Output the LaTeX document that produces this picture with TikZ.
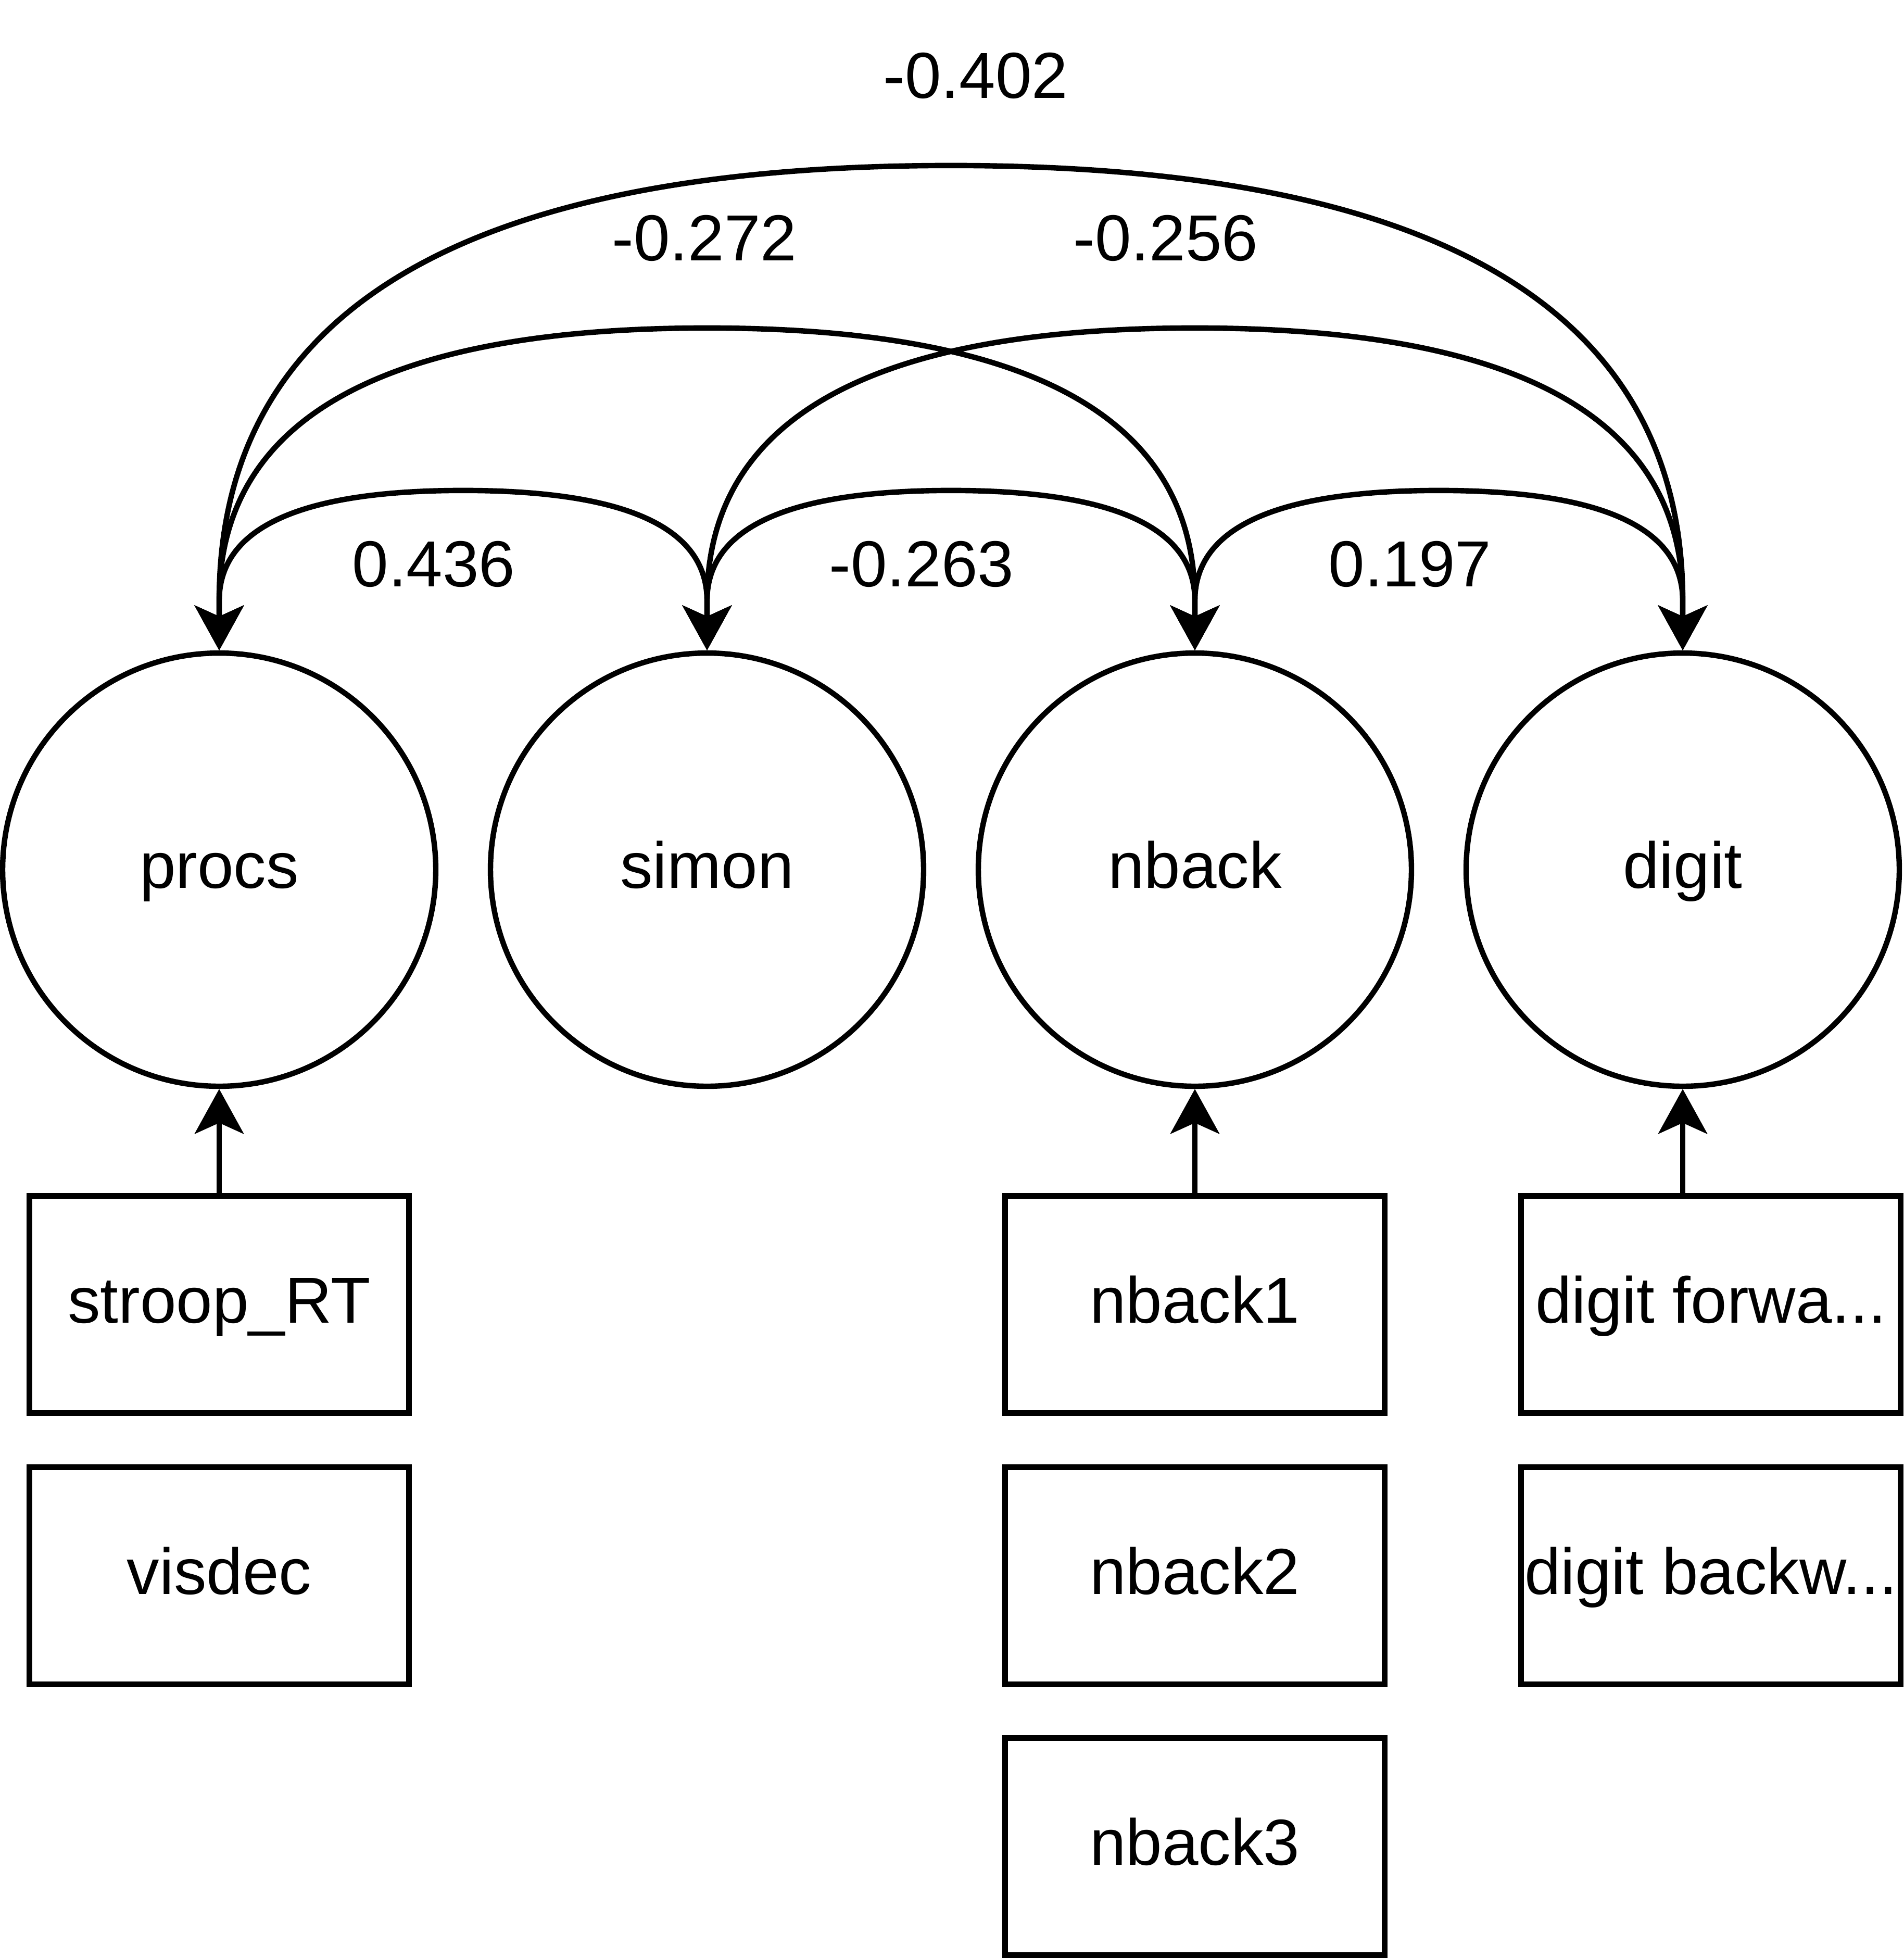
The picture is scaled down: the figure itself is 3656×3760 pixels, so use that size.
\documentclass[tikz,border=0pt]{standalone}
\usepackage{fontspec}
\setmainfont{Liberation Sans}
\usetikzlibrary{arrows.meta,calc}

\tikzset{every picture/.style={line width=1.04pt}}
\tikzset{
	>={Stealth[length=8.6pt,width=9.4pt,inset=2.1pt]},
	every node/.style={font=\fontsize{12.5pt}{15pt}\selectfont, text height=0.9em, text depth=0.2em},
	latent/.style={draw, circle, minimum size=83.2pt, inner sep=0pt},
	indicator/.style={draw, rectangle, minimum width=72.9pt, minimum height=41.7pt, inner sep=0pt},
	loading/.style={->},
	cov/.style={<->},
	coef/.style={inner sep=0pt}
}

\begin{document}
\begin{tikzpicture}[x=0.1pt,y=0.1pt,yscale=-1,xscale=1]
	\useasboundingbox (0,0) rectangle (3656,3760);

	% Latent factors
	\node[latent] (procs) at (421,1670) {procs};
	\node[latent] (simon) at (1358,1670) {simon};
	\node[latent] (nback) at (2295,1670) {nback};
	\node[latent] (digit) at (3232,1670) {digit};

	% Indicators
	\node[indicator] (stroop) at (421,2505) {stroop\_RT};
	\node[indicator] (visdec) at (421,3026) {visdec};
	\node[indicator] (nbackone) at (2295,2505) {nback1};
	\node[indicator] (nbacktwo) at (2295,3026) {nback2};
	\node[indicator] (nbackthree) at (2295,3546) {nback3};
	\node[indicator] (fwd) at (3286,2505) {digit forwa...};
	\node[indicator] (bwd) at (3286,3026) {digit backw...};

	% Loadings
	\draw[loading] (stroop.north) -- (procs.south);
	\draw[loading] (nbackone.north) -- (nback.south);
	\draw[loading] (digit.south |- fwd.north) -- (digit.south);

	% Covariances, neighbours
	\draw[cov] (procs.north) -- ++(0,-95) .. controls +(0,-141) and +(-312,0) .. ($(procs.north)!.5!(simon.north)+(0,-307)$) .. controls +(312,0) and +(0,-141) .. ($(simon.north)+(0,-95)$) -- (simon.north);
	\draw[cov] (simon.north) -- ++(0,-95) .. controls +(0,-141) and +(-312,0) .. ($(simon.north)!.5!(nback.north)+(0,-307)$) .. controls +(312,0) and +(0,-141) .. ($(nback.north)+(0,-95)$) -- (nback.north);
	\draw[cov] (nback.north) -- ++(0,-95) .. controls +(0,-141) and +(-312,0) .. ($(nback.north)!.5!(digit.north)+(0,-307)$) .. controls +(312,0) and +(0,-141) .. ($(digit.north)+(0,-95)$) -- (digit.north);
	% Covariances, one apart
	\draw[cov] (procs.north) -- ++(0,-95) .. controls +(0,-349) and +(-625,0) .. ($(procs.north)!.5!(nback.north)+(0,-619)$) .. controls +(625,0) and +(0,-349) .. ($(nback.north)+(0,-95)$) -- (nback.north);
	\draw[cov] (simon.north) -- ++(0,-95) .. controls +(0,-349) and +(-625,0) .. ($(simon.north)!.5!(digit.north)+(0,-619)$) .. controls +(625,0) and +(0,-349) .. ($(digit.north)+(0,-95)$) -- (digit.north);
	% Covariance, outer
	\draw[cov] (procs.north) -- ++(0,-95) .. controls +(0,-557) and +(-937,0) .. ($(procs.north)!.5!(digit.north)+(0,-931)$) .. controls +(937,0) and +(0,-557) .. ($(digit.north)+(0,-95)$) -- (digit.north);

	% Coefficients
	\node[coef] (c-procs-simon) at (833,1091) {0.436};
	\node[coef] (c-simon-nback) at (1770,1091) {-0.263};
	\node[coef] (c-nback-digit) at (2708,1091) {0.197};
	\node[coef] (c-procs-nback) at (1353,465) {-0.272};
	\node[coef] (c-simon-digit) at (2239,465) {-0.256};
	\node[coef] (c-procs-digit) at (1874,153) {-0.402};

\end{tikzpicture}
\end{document}
